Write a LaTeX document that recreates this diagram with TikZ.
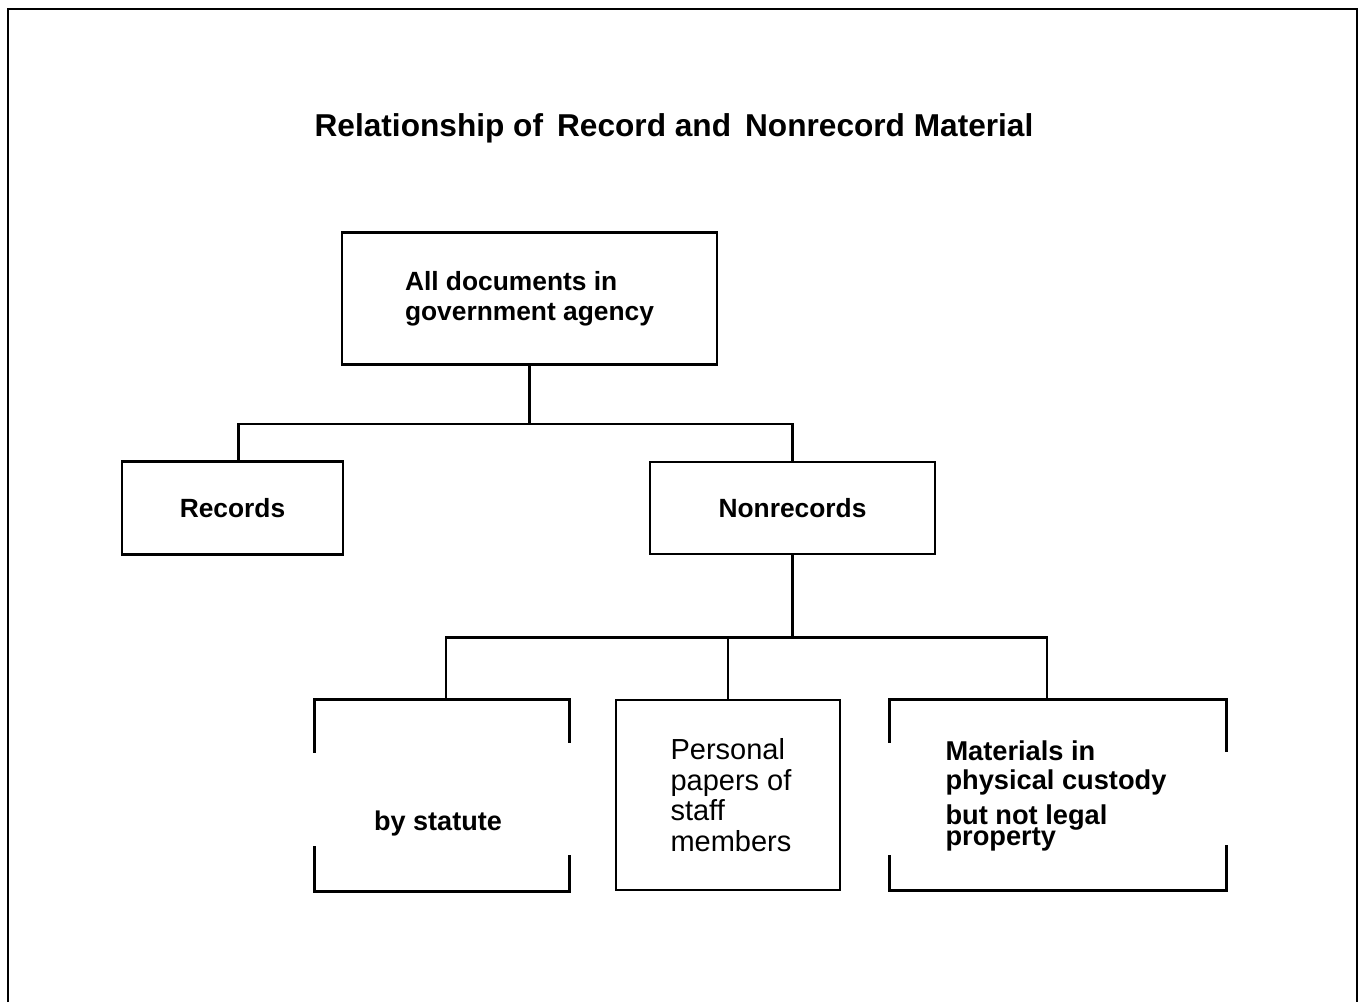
\documentclass[tikz,border=0pt]{standalone}
\usepackage{fontspec}
\setmainfont{Liberation Sans}
\usepackage{tikz}

\begin{document}
\begin{tikzpicture}[x=0.02cm, y=-0.02cm,
  box/.style={draw, line width=1.6pt, inner sep=0pt, align=left,
    font=\bfseries\fontsize{15}{17}\selectfont},
  openbox/.style={inner sep=0pt},
  edge/.style={line width=1.6pt, line join=miter},
  link/.style={line width=1.4pt}]
\useasboundingbox (0,0) rectangle (1363,1002);
\draw [edge] (8,1002) to (8,9) to (1357,9) to (1357,1002);
\node (title) at (674,128) {\bfseries\fontsize{18}{20}\selectfont Relationship of\, Record and\, Nonrecord Material};
\node [box, minimum width=7.5cm, minimum height=2.64cm] (all) at (529.5,298.5) {All documents in\\government agency};
\node [box, minimum width=4.42cm, minimum height=1.86cm] (rec) at (232.5,508) {Records};
\node [box, minimum width=5.7cm, minimum height=1.84cm] (nonrec) at (792.5,508) {Nonrecords};
\node [openbox, minimum width=5.08cm, minimum height=3.82cm] (stat) at (442,795.5) {};
\node [box, minimum width=4.48cm, minimum height=3.8cm] (pers) at (728,795) {};
\node [openbox, minimum width=6.72cm, minimum height=3.8cm] (mat) at (1058,795) {};
\draw [edge] (stat.north west) ++(0,53) to (stat.north west) to (stat.north east) to ++(0,43);
\draw [edge] (stat.south west) ++(0,-45) to (stat.south west) to (stat.south east) to ++(0,-36);
\draw [edge] (mat.north west) ++(0,43) to (mat.north west) to (mat.north east) to ++(0,52);
\draw [edge] (mat.south west) ++(0,-35) to (mat.south west) to (mat.south east) to ++(0,-45);
\node [font=\bfseries\fontsize{15.4}{17}\selectfont] (stattxt) at (438,823) {by statute};
\node [align=left, font=\fontsize{16.5}{17.5}\selectfont] (perstxt) at (731,795) {Personal\\papers of\\staff\\members};
\node [align=left, font=\bfseries\fontsize{15.5}{16.5}\selectfont] (mattxt) at (1056,796) {Materials in\\physical custody\\[0.12cm]but not legal\\[-0.16cm]property};
\draw [link] (all.south) to ++(0,58) coordinate (j1);
\draw [link] (j1) -| ([xshift=0.12cm]rec.north);
\draw [link] (j1) -| (nonrec.north);
\draw [link] (nonrec.south) to ++(0,82) coordinate (j2);
\draw [link] (j2) -| ([xshift=0.08cm]stat.north);
\draw [link] (j2) -| (pers.north);
\draw [link] (j2) -| ([xshift=-0.22cm]mat.north);
\end{tikzpicture}
\end{document}
